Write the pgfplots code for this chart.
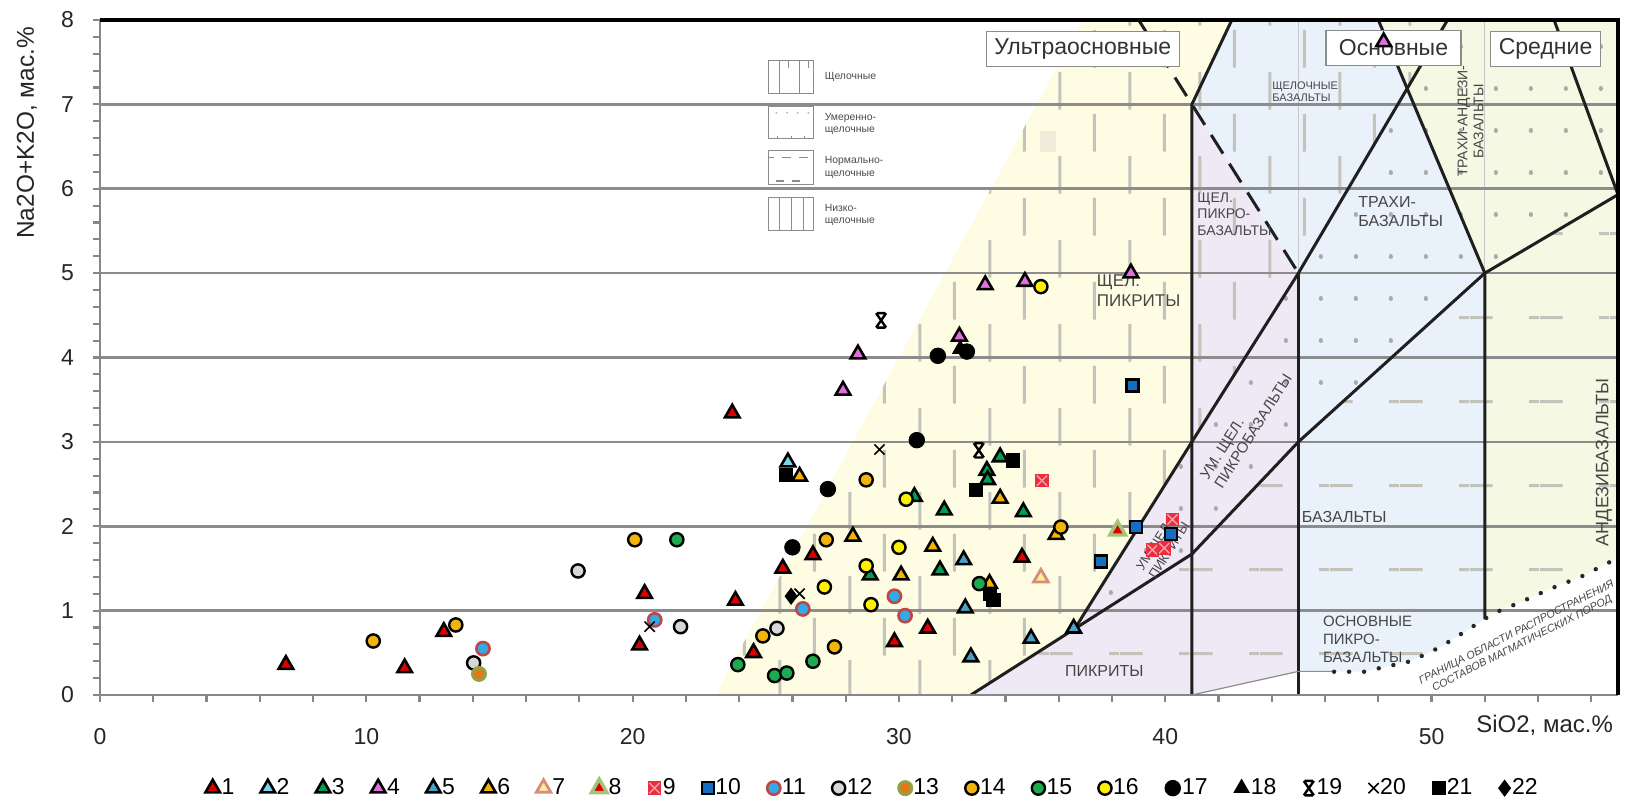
\documentclass[border=0pt]{standalone}
\usepackage{fontspec}
\setmainfont{Liberation Sans}
\usepackage{pgfplots}
\pgfplotsset{compat=1.18}
\usetikzlibrary{patterns.meta}

\definecolor{ultra}{RGB}{254,253,228}
\definecolor{lav}{RGB}{238,233,244}
\definecolor{basic}{RGB}{233,242,251}
\definecolor{inter}{RGB}{245,248,226}
\definecolor{patg}{RGB}{195,195,188}
\definecolor{dotg}{RGB}{170,170,170}
\definecolor{gridg}{RGB}{140,140,140}
\definecolor{axg}{RGB}{135,135,135}
\definecolor{fieldtxt}{RGB}{70,70,70}
\definecolor{boxg}{RGB}{140,140,140}
\definecolor{c1}{RGB}{220,0,0}
\definecolor{c2}{RGB}{120,215,235}
\definecolor{c3}{RGB}{0,160,80}
\definecolor{c4}{RGB}{225,110,220}
\definecolor{c5}{RGB}{75,160,200}
\definecolor{c6}{RGB}{245,180,0}
\definecolor{c7o}{RGB}{215,140,125}
\definecolor{c7f}{RGB}{255,240,150}
\definecolor{c8o}{RGB}{165,195,120}
\definecolor{c9}{RGB}{235,45,60}
\definecolor{c9x}{RGB}{245,160,175}
\definecolor{c10}{RGB}{20,110,195}
\definecolor{c11o}{RGB}{190,70,70}
\definecolor{c11f}{RGB}{50,170,230}
\definecolor{c12}{RGB}{215,215,215}
\definecolor{c13o}{RGB}{140,165,70}
\definecolor{c13f}{RGB}{225,120,30}
\definecolor{c14}{RGB}{242,180,10}
\definecolor{c15}{RGB}{30,170,80}
\definecolor{c16}{RGB}{255,240,0}

\tikzdeclarepattern{name=vdash, type=uncolored,
  bounding box={(0pt,0pt) and (35pt,42.19pt)},
  tile size={(35pt,42.19pt)},
  code={
    \pgfsetlinewidth{1.5pt}
    \pgfpathmoveto{\pgfpoint{5pt}{9.75pt}}\pgfpathlineto{\pgfpoint{5pt}{28.75pt}}
    \pgfpathmoveto{\pgfpoint{22.5pt}{30.84pt}}\pgfpathlineto{\pgfpoint{22.5pt}{42.19pt}}
    \pgfpathmoveto{\pgfpoint{22.5pt}{0pt}}\pgfpathlineto{\pgfpoint{22.5pt}{7.65pt}}
    \pgfusepath{stroke}
  }}
\tikzdeclarepattern{name=hdash, type=uncolored,
  bounding box={(0pt,0pt) and (35pt,42.19pt)},
  tile size={(35pt,42.19pt)},
  code={
    \pgfsetlinewidth{1.6pt}
    \pgfpathmoveto{\pgfpoint{30pt}{31.9pt}}\pgfpathlineto{\pgfpoint{35pt}{31.9pt}}
    \pgfpathmoveto{\pgfpoint{0pt}{31.9pt}}\pgfpathlineto{\pgfpoint{11.5pt}{31.9pt}}
    \pgfusepath{stroke}
  }}
\tikzdeclarepattern{name=dotpat, type=uncolored,
  bounding box={(0pt,0pt) and (17.5pt,21.095pt)},
  tile size={(17.5pt,21.095pt)},
  code={
    \pgfpathcircle{\pgfpoint{13.3pt}{20.5pt}}{1.1pt}
    \pgfpathcircle{\pgfpoint{13.3pt}{-0.595pt}}{1.1pt}
    \pgfusepath{fill}
  }}

\pgfdeclareplotmark{sqx}{%
  \pgfpathrectangle{\pgfpoint{-\pgfplotmarksize}{-\pgfplotmarksize}}{\pgfpoint{2\pgfplotmarksize}{2\pgfplotmarksize}}%
  \pgfusepath{fill}%
  \pgfsetlinewidth{0.7pt}%
  \pgfsetstrokecolor{c9x}%
  \pgfpathmoveto{\pgfpoint{-0.75\pgfplotmarksize}{-0.75\pgfplotmarksize}}%
  \pgfpathlineto{\pgfpoint{0.75\pgfplotmarksize}{0.75\pgfplotmarksize}}%
  \pgfpathmoveto{\pgfpoint{-0.75\pgfplotmarksize}{0.75\pgfplotmarksize}}%
  \pgfpathlineto{\pgfpoint{0.75\pgfplotmarksize}{-0.75\pgfplotmarksize}}%
  \pgfusepath{stroke}}
\pgfdeclareplotmark{xbar}{%
  \pgfpathmoveto{\pgfpoint{-0.7\pgfplotmarksize}{-\pgfplotmarksize}}%
  \pgfpathlineto{\pgfpoint{0.7\pgfplotmarksize}{\pgfplotmarksize}}%
  \pgfpathmoveto{\pgfpoint{-0.7\pgfplotmarksize}{\pgfplotmarksize}}%
  \pgfpathlineto{\pgfpoint{0.7\pgfplotmarksize}{-\pgfplotmarksize}}%
  \pgfpathmoveto{\pgfpoint{-0.6\pgfplotmarksize}{\pgfplotmarksize}}%
  \pgfpathlineto{\pgfpoint{0.6\pgfplotmarksize}{\pgfplotmarksize}}%
  \pgfpathmoveto{\pgfpoint{-0.6\pgfplotmarksize}{-\pgfplotmarksize}}%
  \pgfpathlineto{\pgfpoint{0.6\pgfplotmarksize}{-\pgfplotmarksize}}%
  \pgfusepath{stroke}}

\pgfplotsset{
  fieldline/.style={draw=black!88, line width=1.5pt, mark=none, forget plot},
  tri/.style={only marks, mark=triangle*, mark size=4.2pt, mark options={draw=black, line width=1.3pt, fill=#1}},
  circ/.style={only marks, mark=*, mark size=3.3pt, mark options={draw=black, line width=1.2pt, fill=#1}},
}

\begin{document}
\begin{tikzpicture}
\fill[white] (0,0) rectangle (814pt,400.5pt);
\useasboundingbox (0,0) rectangle (814pt,400.5pt);
\begin{axis}[
  at={(50pt,53pt)}, anchor=south west,
  scale only axis, width=759pt, height=337.5pt,
  xmin=0, xmax=57, ymin=0, ymax=8,
  clip=false,
  axis line style={draw=none},
  xtick={0,10,20,30,40,50}, minor xtick={2,4,...,56},
  ytick={0,1,...,8}, minor y tick num=4,
  tick align=outside, tick pos=left,
  major tick length=3.5pt, minor tick length=3.5pt,
  every tick/.style={draw=axg, line width=1.1pt},
  xticklabel shift=9.5pt, yticklabel shift=6pt,
  ticklabel style={font=\fontsize{11.5}{12}\selectfont, color=black!85},
  /pgf/number format/assume math mode=true,
  xlabel={SiO2, мас.\%}, ylabel={Na2O+K2O, мас.\%},
  xlabel style={at={(axis description cs:1.0013,-0.0444)}, anchor=east, font=\fontsize{12}{13}\selectfont, color=black!85},
  ylabel style={at={(axis description cs:-0.0481,0.8326)}, anchor=center, font=\fontsize{12.2}{13}\selectfont, color=black!85},
  legend columns=22,
  legend style={at={(axis description cs:0.0692,-0.138)}, anchor=west, draw=none, fill=none, inner sep=0pt,
    font=\fontsize{11.5}{12}\selectfont, nodes={inner sep=0.8pt},
    /tikz/every even column/.append style={column sep=12.3pt}},
  legend image code/.code={\draw[mark repeat=2,mark phase=2,#1] plot coordinates {(0cm,0cm)(0.15cm,0cm)(0.3cm,0cm)};},
]
% ---------- field fills ----------
\addplot[fill=ultra, draw=none, forget plot] coordinates {(23.1,0)(36.9,8)(42.5,8)(41,7)(41,3)(36.6,0.785)(32.7,0)} -- cycle;
\addplot[fill=lav, draw=none, forget plot] coordinates {(32.7,0)(36.6,0.785)(41,3)(41,7)(45,5)(45,0.28)(41,0)} -- cycle;
\addplot[fill=basic, draw=none, forget plot] coordinates {(42.5,8)(48,8)(52,5)(52,0.90)(51.34,0.77)(50.34,0.57)(49.22,0.40)(48.07,0.32)(47.47,0.276)(46.34,0.276)(45,0.28)(45,5)(41,7)} -- cycle;
\addplot[fill=inter, draw=none, forget plot] coordinates {(48,8)(57,8)(57,1.62)(56.72,1.58)(55.6,1.40)(54.47,1.26)(53.34,1.10)(52.34,0.97)(52,0.90)(52,5)} -- cycle;
\addplot[fill={rgb,255:red,240;green,236;blue,218}, draw=none, forget plot] coordinates {(35.3,6.43)(35.9,6.43)(35.9,6.69)(35.3,6.69)} -- cycle;
% ---------- alkalinity patterns ----------
\addplot[draw=none, pattern=vdash, pattern color=patg, forget plot] coordinates {(23.1,0)(36.9,8)(50.6,8)(45,5)(41,3)(36.6,0.785)(32.7,0)} -- cycle;
\addplot[draw=none, pattern=dotpat, pattern color=dotg, forget plot] coordinates {(36.6,0.785)(41,3)(45,5)(50.6,8)(57,8)(57,5.93)(52,5)(45,3)(41,1.67)} -- cycle;
\addplot[draw=none, pattern=hdash, pattern color=patg, forget plot] coordinates {(32.7,0)(41,1.67)(45,3)(52,5)(57,5.93)(57,1.62)(56.72,1.58)(55.6,1.40)(54.47,1.26)(53.34,1.10)(52.34,0.97)(51.34,0.77)(50.34,0.57)(49.22,0.40)(48.07,0.32)(47.47,0.276)(46.34,0.276)(45,0.28)(41,0)} -- cycle;
% faint lines
\addplot[draw=black!22, line width=0.6pt, forget plot] coordinates {(45,5)(45,8)};
\addplot[draw=black!22, line width=0.6pt, forget plot] coordinates {(52,5)(52,8)};
% ---------- grid ----------
\addplot[draw=gridg, line width=1.3pt, forget plot] coordinates {(0,1)(57,1)};
\addplot[draw=gridg, line width=1.3pt, forget plot] coordinates {(0,2)(57,2)};
\addplot[draw=gridg, line width=1.3pt, forget plot] coordinates {(0,3)(57,3)};
\addplot[draw=gridg, line width=1.3pt, forget plot] coordinates {(0,4)(57,4)};
\addplot[draw=gridg, line width=1.3pt, forget plot] coordinates {(0,5)(57,5)};
\addplot[draw=gridg, line width=1.3pt, forget plot] coordinates {(0,6)(57,6)};
\addplot[draw=gridg, line width=1.3pt, forget plot] coordinates {(0,7)(57,7)};
% ---------- field boundaries ----------
\addplot[fieldline] coordinates {(32.7,0)(41,1.67)(45,3)(52,5)(57,5.93)};
\addplot[fieldline] coordinates {(36.6,0.785)(41,3)(45,5)(50.6,8)};
\addplot[fieldline] coordinates {(41,0)(41,7)(42.5,8)};
\addplot[fieldline] coordinates {(45,0)(45,5)};
\addplot[fieldline] coordinates {(52,0.90)(52,5)(48,8)};
\addplot[fieldline] coordinates {(54.6,8)(57,5.93)};
\addplot[draw=black!88, line width=1.5pt, dash pattern=on 11pt off 6pt, forget plot] coordinates {(39,8)(45,5)};
\addplot[draw=black!45, line width=0.6pt, forget plot] coordinates {(41,0)(45,0.28)(46.34,0.28)};
\addplot[draw=black!85, line width=2.2pt, line cap=round, dash pattern=on 0pt off 7.5pt, forget plot] coordinates {(46.34,0.276)(47.47,0.276)(48.07,0.32)(49.22,0.40)(50.34,0.57)(51.34,0.77)(52.34,0.97)(53.34,1.10)(54.47,1.26)(55.6,1.40)(56.72,1.58)};
% ---------- frame ----------
\draw[axg, line width=1.4pt] (rel axis cs:0,1) -- (rel axis cs:0,0) -- (rel axis cs:1,0);
\draw[black, line width=1.6pt] (rel axis cs:0,1) -- (rel axis cs:1,1) -- (rel axis cs:1,0);
% ---------- pattern legend (top left) ----------
\draw[black!45, line width=0.5pt] (axis cs:25.1,7.13) rectangle (axis cs:26.8,7.52);
\draw[black!45, line width=0.5pt] (axis cs:25.5,7.52) -- (axis cs:25.5,7.13);
\draw[black!45, line width=0.5pt] (axis cs:26.25,7.52) -- (axis cs:26.25,7.13);
\draw[black!45, line width=0.5pt] (axis cs:25.85,7.52) -- (axis cs:25.85,7.43);
\draw[black!45, line width=0.5pt] (axis cs:26.6,7.52) -- (axis cs:26.6,7.43);
\draw[black!45, line width=0.5pt] (axis cs:25.1,6.59) rectangle (axis cs:26.8,6.97);
\fill[black!30] (axis cs:25.4,6.9) circle (0.5pt);
\fill[black!30] (axis cs:25.8,6.9) circle (0.5pt);
\fill[black!30] (axis cs:26.2,6.9) circle (0.5pt);
\fill[black!30] (axis cs:26.6,6.9) circle (0.5pt);
\draw[black!45, line width=0.5pt] (axis cs:25.45,6.59) -- (axis cs:25.45,6.63);
\draw[black!45, line width=0.5pt] (axis cs:25.95,6.59) -- (axis cs:25.95,6.63);
\draw[black!45, line width=0.5pt] (axis cs:26.45,6.59) -- (axis cs:26.45,6.63);
\draw[black!45, line width=0.5pt] (axis cs:25.1,6.05) rectangle (axis cs:26.8,6.45);
\draw[black!45, line width=0.5pt] (axis cs:25.1,6.37) -- (axis cs:25.3,6.37);
\draw[black!45, line width=0.5pt] (axis cs:25.6,6.37) -- (axis cs:25.95,6.37);
\draw[black!45, line width=0.5pt] (axis cs:26.25,6.37) -- (axis cs:26.6,6.37);
\draw[black!45, line width=0.9pt] (axis cs:25.4,6.09) -- (axis cs:25.7,6.09);
\draw[black!45, line width=0.9pt] (axis cs:26.0,6.09) -- (axis cs:26.3,6.09);
\draw[black!45, line width=0.5pt] (axis cs:25.1,5.51) rectangle (axis cs:26.8,5.90);
\draw[black!45, line width=0.5pt] (axis cs:25.5,5.51) -- (axis cs:25.5,5.90);
\draw[black!45, line width=0.5pt] (axis cs:25.95,5.51) -- (axis cs:25.95,5.90);
\draw[black!45, line width=0.5pt] (axis cs:26.4,5.51) -- (axis cs:26.4,5.90);
\node[anchor=west, font=\fontsize{5.2}{6.3}\selectfont, text=black!70, align=left, inner sep=0pt] at (axis cs:27.2,7.33) {Щелочные};
\node[anchor=west, font=\fontsize{5.2}{6.3}\selectfont, text=black!70, align=left, inner sep=0pt] at (axis cs:27.2,6.77) {Умеренно-\\щелочные};
\node[anchor=west, font=\fontsize{5.2}{6.3}\selectfont, text=black!70, align=left, inner sep=0pt] at (axis cs:27.2,6.25) {Нормально-\\щелочные};
\node[anchor=west, font=\fontsize{5.2}{6.3}\selectfont, text=black!70, align=left, inner sep=0pt] at (axis cs:27.2,5.69) {Низко-\\щелочные};
% ---------- field labels ----------
\node[text=fieldtxt, inner sep=0pt, font=\fontsize{5.5}{6}\selectfont, align=left] at (axis cs:45.25,7.15) {ЩЕЛОЧНЫЕ\\БАЗАЛЬТЫ};
\node[text=fieldtxt, inner sep=0pt, font=\fontsize{7}{8.2}\selectfont, align=left] at (axis cs:42.6,5.70) {ЩЕЛ.\\ПИКРО-\\БАЗАЛЬТЫ};
\node[text=fieldtxt, inner sep=0pt, font=\fontsize{8}{9.3}\selectfont, align=left] at (axis cs:48.84,5.73) {ТРАХИ-\\БАЗАЛЬТЫ};
\node[text=fieldtxt, inner sep=0pt, font=\fontsize{7}{8}\selectfont, align=center, rotate=90] at (axis cs:51.46,6.8) {ТРАХИ-АНДЕЗИ-\\БАЗАЛЬТЫ};
\node[text=fieldtxt, inner sep=0pt, font=\fontsize{8.5}{10}\selectfont, align=left] at (axis cs:39.0,4.79) {ЩЕЛ.\\ПИКРИТЫ};
\node[text=fieldtxt, inner sep=0pt, font=\fontsize{7.5}{8.5}\selectfont, align=left, rotate=57.7] at (axis cs:43.03,3.18) {УМ. ЩЕЛ.\\ПИКРОБАЗАЛЬТЫ};
\node[text=fieldtxt, inner sep=0pt, font=\fontsize{6.5}{7.5}\selectfont, align=left, rotate=57.7] at (axis cs:39.9,1.76) {УМ.ЩЕЛ.\\ПИКРИТЫ};
\node[text=fieldtxt, inner sep=0pt, font=\fontsize{8}{9}\selectfont] at (axis cs:37.71,0.28) {ПИКРИТЫ};
\node[text=fieldtxt, inner sep=0pt, font=\fontsize{8}{9}\selectfont] at (axis cs:46.72,2.11) {БАЗАЛЬТЫ};
\node[text=fieldtxt, inner sep=0pt, font=\fontsize{7.5}{9}\selectfont, align=left] at (axis cs:47.6,0.66) {ОСНОВНЫЕ\\ПИКРО-\\БАЗАЛЬТЫ};
\node[text=fieldtxt, inner sep=0pt, font=\itshape\fontsize{5.4}{6.3}\selectfont, align=center, rotate=26.8] at (axis cs:53.3,0.67) {ГРАНИЦА ОБЛАСТИ РАСПРОСТРАНЕНИЯ\\СОСТАВОВ МАГМАТИЧЕСКИХ ПОРОД};
\node[text=fieldtxt, inner sep=0pt, font=\fontsize{9}{10}\selectfont, rotate=90] at (axis cs:56.47,2.76) {АНДЕЗИБАЗАЛЬТЫ};
% ---------- category boxes ----------
\node[draw=boxg, fill=white, line width=0.6pt, font=\fontsize{11.5}{13}\selectfont, text=black!80, inner xsep=4pt, inner ysep=0pt, minimum height=17.5pt] at (axis cs:36.9,7.66) {Ультраосновные};
\node[draw=boxg, fill=white, line width=0.6pt, font=\fontsize{11.5}{13}\selectfont, text=black!80, inner xsep=4pt, inner ysep=0pt, minimum height=17.5pt, minimum width=67.5pt] at (axis cs:48.57,7.67) {Основные};
\node[draw=boxg, fill=white, line width=0.6pt, font=\fontsize{11.5}{13}\selectfont, text=black!80, inner xsep=4pt, inner ysep=0pt, minimum height=17.5pt] at (axis cs:54.28,7.66) {Средние};
% ---------- data ----------
\addplot[tri=c1] coordinates {(6.98,0.36)(11.44,0.32)(12.91,0.75)(20.26,0.59)(20.45,1.20)(23.74,3.34)(23.86,1.12)(24.54,0.50)(25.64,1.50)(26.77,1.66)(29.83,0.63)(31.08,0.79)(34.62,1.63)};
\addlegendentry{1}
\addplot[tri=c2] coordinates {(25.83,2.76)};
\addlegendentry{2}
\addplot[tri=c3] coordinates {(28.92,1.42)(30.58,2.35)(31.54,1.48)(31.70,2.19)(33.30,2.66)(33.33,2.55)(33.80,2.82)(34.67,2.17)};
\addlegendentry{3}
\addplot[tri=c4] coordinates {(27.90,3.61)(28.46,4.04)(32.27,4.25)(33.24,4.86)(34.73,4.90)(38.71,5.00)(48.20,7.74)};
\addlegendentry{4}
\addplot[tri=c5] coordinates {(32.43,1.60)(32.49,1.03)(32.70,0.45)(34.96,0.67)(36.56,0.79)};
\addlegendentry{5}
\addplot[tri=c6] coordinates {(26.27,2.59)(28.27,1.88)(30.08,1.42)(31.27,1.76)(33.40,1.32)(33.80,2.33)(35.90,1.90)};
\addlegendentry{6}
\addplot[only marks, mark=triangle*, mark size=4.2pt, mark options={draw=c7o, line width=1.4pt, fill=c7f}] coordinates {(35.33,1.39)};
\addlegendentry{7}
\addplot[only marks, mark=triangle*, mark size=4.5pt, mark options={draw=c8o, line width=1.7pt, fill=c1}] coordinates {(38.21,1.95)};
\addlegendentry{8}
\addplot[only marks, mark=sqx, mark size=3.4pt, mark options={fill=c9}] coordinates {(35.37,2.54)(39.52,1.72)(39.96,1.74)(40.27,2.08)};
\addlegendentry{9}
\addplot[only marks, mark=square*, mark size=3pt, mark options={draw=black, line width=1.2pt, fill=c10}] coordinates {(37.59,1.58)(38.77,3.67)(38.90,1.99)(40.21,1.91)};
\addlegendentry{10}
\addplot[only marks, mark=*, mark size=3.3pt, mark options={draw=c11o, line width=1.3pt, fill=c11f}] coordinates {(14.38,0.55)(20.83,0.89)(26.39,1.02)(29.83,1.17)(30.23,0.94)};
\addlegendentry{11}
\addplot[circ=c12] coordinates {(14.03,0.38)(17.95,1.47)(21.80,0.81)(25.42,0.79)};
\addlegendentry{12}
\addplot[only marks, mark=*, mark size=3.3pt, mark options={draw=c13o, line width=1.4pt, fill=c13f}] coordinates {(14.23,0.25)};
\addlegendentry{13}
\addplot[circ=c14] coordinates {(10.26,0.64)(13.36,0.83)(20.08,1.84)(24.89,0.70)(27.27,1.84)(27.58,0.57)(28.77,2.55)(36.08,1.99)};
\addlegendentry{14}
\addplot[circ=c15] coordinates {(21.66,1.84)(23.95,0.36)(25.33,0.23)(25.79,0.26)(26.77,0.40)(33.02,1.32)};
\addlegendentry{15}
\addplot[circ=c16] coordinates {(27.20,1.28)(28.77,1.53)(28.95,1.07)(30.00,1.75)(30.27,2.32)(35.33,4.84)};
\addlegendentry{16}
\addplot[only marks, mark=*, mark size=3.9pt, mark options={draw=black, fill=black}] coordinates {(26.00,1.75)(27.33,2.44)(30.67,3.02)(31.46,4.02)(32.55,4.07)};
\addlegendentry{17}
\addplot[only marks, mark=triangle*, mark size=4.4pt, mark options={draw=black, fill=black}] coordinates {(32.30,4.10)};
\addlegendentry{18}
\addplot[only marks, mark=xbar, mark size=3.6pt, mark options={draw=black, line width=1.2pt}] coordinates {(29.33,4.44)(33.00,2.90)};
\addlegendentry{19}
\addplot[only marks, mark=x, mark size=3.6pt, mark options={draw=black, line width=0.8pt}] coordinates {(20.64,0.81)(26.27,1.20)(29.27,2.91)};
\addlegendentry{20}
\addplot[only marks, mark=square*, mark size=3.3pt, mark options={draw=black, fill=black}] coordinates {(25.75,2.61)(32.90,2.43)(33.40,1.20)(33.55,1.13)(34.27,2.78)};
\addlegendentry{21}
\addplot[only marks, mark=diamond*, mark size=4pt, mark options={draw=black, fill=black}] coordinates {(25.95,1.17)};
\addlegendentry{22}
\end{axis}
\end{tikzpicture}
\end{document}
